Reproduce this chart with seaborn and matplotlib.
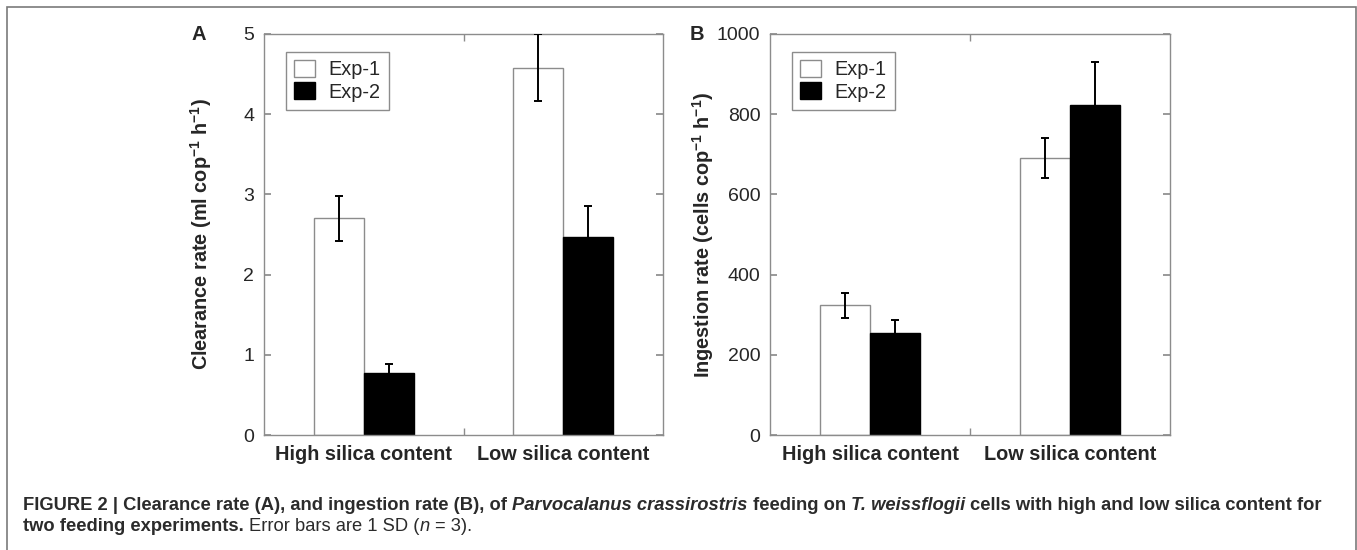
import numpy as np
import pandas as pd
import matplotlib
matplotlib.use("Agg")
import matplotlib.pyplot as plt
import matplotlib.patches as mpatches
import seaborn as sns

# data
conditions = ["High silica content", "Low silica content"]
experiments = ["Exp-1", "Exp-2"]
clearance_mean = {"Exp-1": [2.70, 4.58], "Exp-2": [0.77, 2.47]}
clearance_sd = {"Exp-1": [0.28, 0.42], "Exp-2": [0.11, 0.38]}
ingestion_mean = {"Exp-1": [323, 690], "Exp-2": [254, 822]}
ingestion_sd = {"Exp-1": [30, 50], "Exp-2": [34, 107]}

sns.set_theme(style="white")
plt.rcParams["font.family"] = ["Liberation Sans", "DejaVu Sans"]
plt.rcParams["mathtext.fontset"] = "custom"
plt.rcParams["mathtext.rm"] = "Liberation Sans"
plt.rcParams["mathtext.bf"] = "Liberation Sans:bold"
plt.rcParams["mathtext.it"] = "Liberation Sans:italic"

GRAY = "#8c8c8c"
W, H = 1357, 550


def make_df(means):
    rows = []
    for exp in experiments:
        for cond, v in zip(conditions, means[exp]):
            rows.append({"condition": cond, "experiment": exp, "value": v})
    return pd.DataFrame(rows)


def draw_panel(ax, means, sds, ymax, yticks, ylabel, letter, letter_x, label_x):
    df = make_df(means)
    sns.barplot(data=df, x="condition", y="value", hue="experiment",
                hue_order=experiments, order=conditions,
                palette={"Exp-1": "white", "Exp-2": "black"},
                width=0.5, errorbar=None, ax=ax, legend=False,
                saturation=1)
    for cont, exp in zip(ax.containers, experiments):
        for bar, sd in zip(cont, sds[exp]):
            bar.set_edgecolor(GRAY if exp == "Exp-1" else "black")
            bar.set_linewidth(1.0)
            xc = bar.get_x() + bar.get_width() / 2
            ax.errorbar(xc, bar.get_height(), yerr=sd, color="black",
                        elinewidth=1.4, capsize=2.8, capthick=1.4, zorder=5)
    ax.set_xlim(-0.5, 1.5)
    ax.set_ylim(0, ymax)
    ax.set_yticks(yticks)
    ax.set_xticks([0, 1])
    ax.set_xticklabels(conditions, fontsize=14.3, fontweight="bold")
    ax.set_xticks([0.5], minor=True)
    ax.tick_params(axis="x", which="major", length=0, pad=7)
    ax.tick_params(axis="x", which="minor", direction="in", length=5,
                   color=GRAY, top=True, bottom=True)
    ax.tick_params(axis="y", direction="in", length=5, color=GRAY,
                   left=True, right=True, labelsize=14, pad=7)
    ax.set_xlabel("")
    ax.set_ylabel(ylabel, fontsize=14.3, fontweight="bold")
    ax.yaxis.set_label_coords(label_x, 0.5)
    for sp in ax.spines.values():
        sp.set_color(GRAY)
        sp.set_linewidth(1.0)
    handles = [mpatches.Patch(facecolor="white", edgecolor=GRAY, lw=1.0),
               mpatches.Patch(facecolor="black", edgecolor="black", lw=1.0)]
    leg = ax.legend(handles, experiments, loc="upper left",
                    bbox_to_anchor=(0.055, 0.955), borderaxespad=0,
                    fontsize=14.3, frameon=True, fancybox=False,
                    handlelength=1.05, handleheight=0.95, handletextpad=0.7,
                    labelspacing=0.15, borderpad=0.4)
    leg.get_frame().set_edgecolor(GRAY)
    leg.get_frame().set_linewidth(1.0)
    leg.get_frame().set_alpha(1)
    ax.text(letter_x, 1.0, letter, transform=ax.transAxes, fontsize=14.5,
            fontweight="bold", ha="left", va="center")


fig = plt.figure(figsize=(W / 100, H / 100), dpi=100)
ax1 = fig.add_axes([264 / W, 1 - 435 / H, 399 / W, 401 / H])
ax2 = fig.add_axes([770 / W, 1 - 435 / H, 400 / W, 401 / H])

draw_panel(ax1, clearance_mean, clearance_sd, 5, [0, 1, 2, 3, 4, 5],
           r"Clearance rate (ml cop$^{\mathbf{-1}}$ h$^{\mathbf{-1}}$)", "A",
           (191 - 264) / 399, -0.125)
draw_panel(ax2, ingestion_mean, ingestion_sd, 1000,
           [0, 200, 400, 600, 800, 1000],
           r"Ingestion rate (cells cop$^{\mathbf{-1}}$ h$^{\mathbf{-1}}$)", "B",
           (690 - 770) / 400, -0.135)

# outer frame
fig.patches.append(mpatches.Rectangle((7 / W, -0.02), 1349 / W, 1 - 7 / H + 0.02,
                                      transform=fig.transFigure, fill=False,
                                      edgecolor="#7a7a7a", lw=1.2))

# caption, drawn piece by piece: (text, weight, style, space before)
caption = [
    [("FIGURE 2 | Clearance rate (A), and ingestion rate (B), of", "bold", "normal", False),
     ("Parvocalanus crassirostris", "bold", "italic", True),
     ("feeding on", "bold", "normal", True),
     ("T. weissflogii", "bold", "italic", True),
     ("cells with high and low silica content for", "bold", "normal", True)],
    [("two feeding experiments.", "bold", "normal", False),
     ("Error bars are 1 SD (", "normal", "normal", True),
     ("n", "normal", "italic", False),
     ("= 3).", "normal", "normal", True)],
]
cap_size = 13.2
cap_color = "#2b2b2b"
fig.canvas.draw()
renderer = fig.canvas.get_renderer()


def text_w(s, weight):
    t = fig.text(0, 0, s, fontsize=cap_size, fontweight=weight)
    w = t.get_window_extent(renderer).width
    t.remove()
    return w


space_w = text_w("x x", "bold") - text_w("xx", "bold")
baselines = [510, 531]
for line, yb in zip(caption, baselines):
    x = 23
    for s, weight, style, sp in line:
        if sp:
            x += space_w
        t = fig.text(x / W, 1 - yb / H, s, fontsize=cap_size, fontweight=weight,
                     fontstyle=style, color=cap_color, va="baseline", ha="left")
        x += t.get_window_extent(renderer).width

fig.savefig("out.png", dpi=100)
